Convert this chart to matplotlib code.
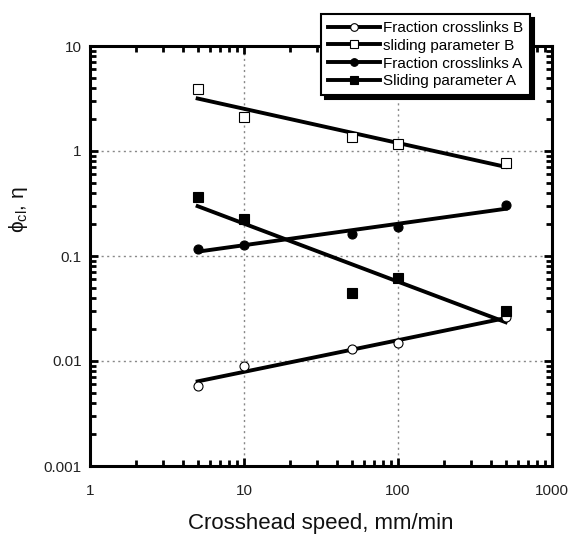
import numpy as np
import matplotlib.pyplot as plt
from matplotlib.lines import Line2D
from matplotlib.ticker import LogLocator, NullFormatter, FixedLocator, FixedFormatter

plt.rcParams['font.family'] = ['Liberation Sans', 'DejaVu Sans']
plt.rcParams['mathtext.fontset'] = 'custom'
plt.rcParams['mathtext.rm'] = 'Liberation Sans'
plt.rcParams['mathtext.it'] = 'Liberation Sans'

# crosshead speed, mm/min
speed = [5, 10, 50, 100, 500]

frac_B = [0.0058, 0.0090, 0.013, 0.0148, 0.026]
slide_B = [3.9, 2.1, 1.36, 1.17, 0.77]
frac_A = [0.117, 0.127, 0.162, 0.19, 0.306]
slide_A = [0.365, 0.225, 0.0445, 0.0617, 0.030]

labels = ["Fraction crosslinks B", "sliding parameter B",
          "Fraction crosslinks A", "Sliding parameter A"]
series = [frac_B, slide_B, frac_A, slide_A]
markers = ['o', 's', 'o', 's']
filled = [False, False, True, True]

xticks = [1, 10, 100, 1000]
yticks = [0.001, 0.01, 0.1, 1, 10]

fig = plt.figure(figsize=(5.7, 5.37), dpi=100)
ax = fig.add_axes([90/570, 1 - 466/537, 462/570, 420/537])

x = np.array(speed, dtype=float)
handles = []
for ys, m, f, lab in zip(series, markers, filled, labels):
    y = np.array(ys)
    # power-law fit (straight line in log-log)
    k, b = np.polyfit(np.log10(x), np.log10(y), 1)
    yfit = 10 ** (k * np.log10(x) + b)
    ax.plot(x, yfit, color='k', lw=2.8, zorder=2)
    fc = 'k' if f else 'white'
    ax.plot(x, y, linestyle='none', marker=m, ms=6.5, mfc=fc, mec='k', mew=0.8, zorder=3)
    handles.append(Line2D([], [], color='k', lw=2.8, marker=m, ms=5.5 if m == 'o' else 6,
                          mfc=fc, mec='k', mew=0.8))

ax.set_xscale('log')
ax.set_yscale('log')
ax.set_xlim(1, 1000)
ax.set_ylim(0.001, 10)

ax.xaxis.set_major_locator(FixedLocator(xticks))
ax.xaxis.set_major_formatter(FixedFormatter([str(t) for t in xticks]))
ax.yaxis.set_major_locator(FixedLocator(yticks))
ax.yaxis.set_major_formatter(FixedFormatter(['0.001', '0.01', '0.1', '1', '10']))
ax.xaxis.set_minor_locator(LogLocator(base=10, subs=np.arange(2, 10)))
ax.yaxis.set_minor_locator(LogLocator(base=10, subs=np.arange(2, 10)))
ax.xaxis.set_minor_formatter(NullFormatter())
ax.yaxis.set_minor_formatter(NullFormatter())

ax.tick_params(which='both', direction='in', top=True, right=True, width=2, labelsize=11,
               colors='k', labelcolor='#222222')
ax.tick_params(which='major', length=6)
ax.tick_params(which='minor', length=4)
ax.tick_params(axis='y', which='major', pad=6)
ax.tick_params(axis='x', which='major', pad=13)
for s in ax.spines.values():
    s.set_linewidth(2.2)

for v in [10, 100]:
    ax.axvline(v, color='#888888', lw=1, ls=(0, (1.5, 2.5)), zorder=1)
for v in [0.01, 0.1, 1]:
    ax.axhline(v, color='#888888', lw=1, ls=(0, (1.5, 2.5)), zorder=1)

ax.set_xlabel('Crosshead speed, mm/min', fontsize=16, labelpad=11, color='#111111')
fig.text(19/570, 1 - 210/537, r'$\mathrm{\phi_{cl}}$, $\mathrm{\eta}$', fontsize=15,
         rotation=90, ha='center', va='center', color='#111111')

leg = fig.legend(handles=handles, labels=labels, loc='upper right',
                 bbox_to_anchor=(530/570, 1 - 14/537), fontsize=11,
                 frameon=True, fancybox=False, handlelength=3.4, handletextpad=0.2,
                 labelspacing=0.25, borderpad=0.45, borderaxespad=0,
                 shadow={'color': 'k', 'alpha': 1, 'ox': 3, 'oy': -3})
leg.get_frame().set_edgecolor('k')
leg.get_frame().set_linewidth(1.5)

fig.savefig('out.png', dpi=100)
